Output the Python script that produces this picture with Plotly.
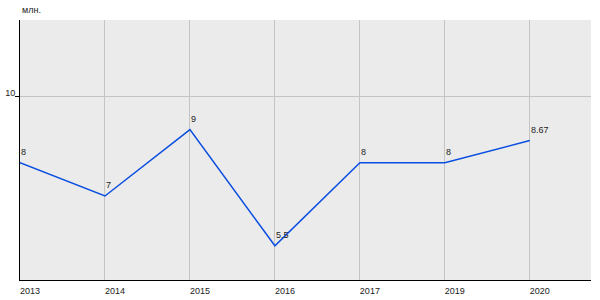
import plotly.graph_objects as go

years = ["2013", "2014", "2015", "2016", "2017", "2019", "2020"]
values = [8, 7, 9, 5.5, 8, 8, 8.67]
labels = ["8", "7", "9", "5.5", "8", "8", "8.67"]
y_ticks = [10]
y_ticklabels = ["10"]
unit = "млн."

FONT = "Liberation Sans, Arial, sans-serif"
TXT = "#222222"

fig = go.Figure()
fig.add_trace(go.Scatter(
    x=years, y=values, mode="lines",
    line=dict(color="#0a4ee0", width=1.5),
    cliponaxis=False, hoverinfo="skip",
))

annotations = [dict(text=unit, x=0, y=1, xref="paper", yref="paper",
                    xanchor="left", yanchor="bottom", yshift=3, showarrow=False,
                    font=dict(family=FONT, size=9, color=TXT))]
for i, (v, lab) in enumerate(zip(values, labels)):
    annotations.append(dict(text=lab, x=i, y=v, xref="x", yref="y",
                            xanchor="left", yanchor="bottom", xshift=-1, yshift=4,
                            showarrow=False, font=dict(family=FONT, size=9, color=TXT)))

fig.update_layout(
    width=600, height=300,
    margin=dict(l=20, r=9, t=20, b=20),
    paper_bgcolor="white", plot_bgcolor="#ebebeb",
    showlegend=False,
    font=dict(family=FONT, size=9, color=TXT),
    annotations=annotations,
)
fig.update_xaxes(
    type="category", range=[0, 6.72], automargin=False,
    showgrid=True, gridcolor="#c4c4c4", gridwidth=1,
    showline=True, linecolor="black", linewidth=1,
    ticks="", ticklabelshift=10, ticklabelstandoff=2,
    tickfont=dict(family=FONT, size=9, color=TXT),
    zeroline=False, fixedrange=True,
)
fig.update_yaxes(
    range=[4.47, 12.3], tickvals=y_ticks, ticktext=y_ticklabels, automargin=False,
    showgrid=True, gridcolor="#c4c4c4", gridwidth=1,
    showline=True, linecolor="black", linewidth=1,
    ticks="outside", ticklen=4, tickcolor="black", ticklabelshift=-4,
    ticklabelstandoff=-2,
    tickfont=dict(family=FONT, size=9, color=TXT),
    zeroline=False, fixedrange=True,
)

fig.write_html("out.html")
